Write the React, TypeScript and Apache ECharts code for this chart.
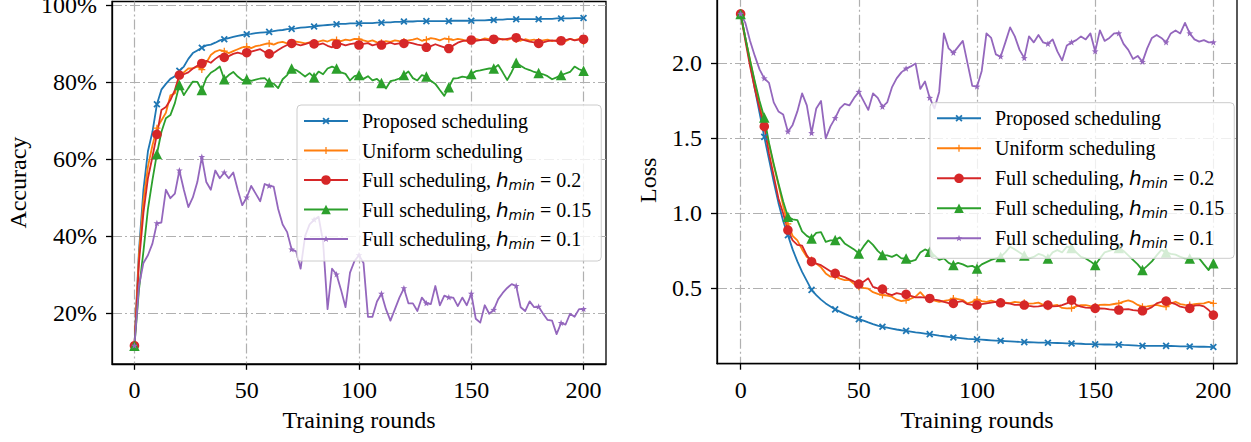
import React, { useEffect, useRef } from "react";
import * as echarts from "echarts";

// ---------- data (values every 2 training rounds) ----------
const ROUND_STEP = 2;
const MARK_EVERY = 10;
const xTicks = [0, 50, 100, 150, 200];
const accTicks = [20, 40, 60, 80, 100];
const lossTicks = [0.5, 1.0, 1.5, 2.0];

const seriesNames = [
  "Proposed scheduling",
  "Uniform scheduling",
  "Full scheduling, h_min = 0.2",
  "Full scheduling, h_min = 0.15",
  "Full scheduling, h_min = 0.1",
];

// Accuracy (%)
const accProposed = [
  11.5, 36, 52, 62, 67, 74.2, 78, 79.5, 80.8, 81.5,
  82.9, 84, 86, 87.5, 88.2, 88.9, 89.5, 89.7, 90.2, 90.8,
  91.1, 91.4, 91.7, 92, 92.2, 92.4, 92.5, 92.7, 92.8, 92.9,
  93.0, 93.2, 93.4, 93.5, 93.7, 93.8, 93.9, 94.1, 94.2, 94.3,
  94.4, 94.6, 94.7, 94.8, 94.9, 95.0, 95.1, 95.1, 95.2, 95.2,
  95.2, 95.3, 95.3, 95.3, 95.4, 95.4, 95.5, 95.5, 95.6, 95.6,
  95.7, 95.7, 95.7, 95.8, 95.8, 95.8, 95.8, 95.8, 95.8, 95.8,
  95.8, 95.9, 95.9, 95.9, 95.9, 95.9, 96.0, 96.0, 96.0, 96.1,
  96.1, 96.2, 96.2, 96.3, 96.3, 96.3, 96.3, 96.3, 96.3, 96.3,
  96.3, 96.4, 96.4, 96.4, 96.5, 96.5, 96.5, 96.5, 96.6, 96.6,
  96.6,
];
const accUniform = [
  11.5, 35, 49, 58, 63.5, 68, 70, 72, 76.5, 77,
  81.8, 82.5, 83.5, 83.5, 84, 83.2, 85, 87, 87.9, 88.3,
  88, 87.5, 88, 88.5, 89, 89.2, 88.8, 89.3, 89.5, 89.8,
  90.0, 89.7, 90.2, 90.4, 90.0, 90.2, 90.5, 90.3, 90.0, 90.3,
  90.0, 90.5, 90.8, 90.5, 91.0, 90.9, 90.6, 91.0, 90.8, 91.2,
  91.1, 90.8, 90.5, 90.8, 90.3, 90.2, 90.6, 90.4, 90.8, 90.6,
  90.5, 90.8, 91.0, 91.3, 90.7, 91.0, 91.4, 91.2, 90.8, 91.3,
  91.1, 90.9, 91.2, 91.0, 90.6, 90.8, 91.2, 90.9, 91.3, 91.1,
  90.7, 91.0, 91.2, 90.9, 91.3, 91.0, 90.7, 91.1, 90.8, 91.0,
  90.5, 90.8, 91.0, 90.6, 90.9, 91.0, 90.6, 91.2, 90.9, 91.2,
  90.5,
];
const accFull02 = [
  11.5, 33, 46, 55, 60.5, 66.4, 72.7, 73.5, 75.3, 77.9,
  81.8, 82, 82.5, 83.5, 84.2, 84.8, 85.5, 85, 86, 86.8,
  86.4, 86.7, 87.3, 87.6, 87.3, 87.6, 87.9, 88.2, 88.5, 87.8,
  87.3, 87.5, 88.3, 89, 89.6, 90.0, 89.8, 89.5, 89.8, 90.2,
  89.9, 89.7, 90.0, 89.4, 89.0, 89.8, 89.9, 89.5, 89.8, 90.0,
  89.6, 89.9, 90.1, 89.5, 89.8, 89.6, 89.9, 90.2, 89.8, 90.0,
  90.0, 90.3, 90.0, 89.7, 89.5, 89.0, 89.3, 89.8, 89.4, 89.0,
  88.7, 89.5, 90.2, 90.6, 90.8, 90.9, 90.7, 90.9, 91.0, 90.8,
  91.1, 91.3, 91.0, 91.2, 91.4, 91.5, 91.2, 90.8, 90.5, 90.3,
  90.0, 90.3, 90.6, 90.8, 90.6, 90.7, 90.9, 91.2, 90.8, 91.0,
  91.1,
];
const accFull015 = [
  11.5, 26, 36, 47, 54.5, 61.3, 67, 70.6, 71.4, 74.5,
  79.2, 76.6, 78.4, 80.1, 80, 77.9, 81, 82.4, 83.1, 84,
  80.7, 81.8, 82.6, 81.4, 80.5, 80.7, 80.3, 80.6, 80.9, 81,
  79.9, 79.6, 78.4, 80.7, 81.8, 83.5, 83.1, 82.3, 81.4, 82.3,
  81.2, 82.7, 82, 83.5, 84, 83.5, 82.5, 82.1, 80.4, 81.5,
  81.8, 80.8, 81.5, 80.4, 80.8, 79.7, 78.3, 80.2, 80.5, 80.9,
  81.8, 82.7, 81.0, 80.4, 81.8, 81.4, 80.3, 79.5, 77.9, 76.4,
  78.6, 80.9, 81.0, 81.4, 81.2, 82.1, 82.8, 83.0, 83.3, 83.5,
  83.5, 84.4, 82.5, 80.5, 82.6, 85.0, 84.2, 83.5, 83.1, 82.6,
  82.3, 82.0, 81.5, 80.7, 81.2, 81.8, 82.2, 82.6, 84.0, 83.3,
  82.9,
];
const accFull01 = [
  11.5, 27, 33, 35, 38, 43.3, 43.5, 52, 49.8, 51,
  57, 52, 47.5, 50, 54, 60.5, 54, 52, 57, 55,
  56.5, 55, 56.5, 52, 48, 50, 53, 51, 49, 53.5,
  53, 52.8, 47, 43, 41, 36.5, 36, 31.5, 40, 43,
  44.2, 45, 38.5, 21, 31.5, 30, 26, 21.5, 30.5, 33.5,
  35, 33, 19, 19, 23, 25, 21, 18, 21, 24,
  26.4, 22.5, 22.5, 20.5, 24, 22.5, 22.3, 27, 22, 24.5,
  24, 24, 21.8, 24, 22, 25, 18.5, 17.5, 22, 19.8,
  20.8, 23.6, 25.2, 26.5, 27.5, 27, 21.5, 20.5, 23, 21.5,
  21.6, 19.8, 18.2, 18, 14.5, 17.4, 17, 19.8, 19, 21,
  21,
];

// Loss
const lossProposed = [
  2.33, 2.17, 2.0, 1.83, 1.67, 1.51, 1.36, 1.21, 1.07, 0.95,
  0.855, 0.76, 0.68, 0.61, 0.55, 0.49, 0.455, 0.425, 0.40, 0.38,
  0.36, 0.345, 0.33, 0.317, 0.305, 0.295, 0.285, 0.273, 0.262, 0.252,
  0.244, 0.238, 0.232, 0.226, 0.221, 0.217, 0.212, 0.207, 0.203, 0.199,
  0.195, 0.19, 0.185, 0.181, 0.177, 0.173, 0.17, 0.167, 0.164, 0.162,
  0.16, 0.158, 0.156, 0.154, 0.152, 0.151, 0.149, 0.147, 0.145, 0.143,
  0.142, 0.141, 0.14, 0.139, 0.138, 0.138, 0.137, 0.136, 0.135, 0.134,
  0.133, 0.132, 0.131, 0.129, 0.128, 0.127, 0.127, 0.126, 0.126, 0.125,
  0.125, 0.123, 0.122, 0.12, 0.118, 0.117, 0.117, 0.117, 0.117, 0.117,
  0.117, 0.116, 0.115, 0.114, 0.114, 0.113, 0.112, 0.111, 0.111, 0.11,
  0.109,
];
const lossUniform = [
  2.33, 2.17, 2.02, 1.87, 1.72, 1.60, 1.46, 1.32, 1.19, 1.05,
  0.93, 0.85, 0.82, 0.76, 0.71, 0.69, 0.665, 0.64, 0.60, 0.578,
  0.58, 0.565, 0.555, 0.555, 0.53, 0.511, 0.503, 0.498, 0.475, 0.463,
  0.456, 0.452, 0.445, 0.425, 0.415, 0.42, 0.432, 0.445, 0.475, 0.44,
  0.427, 0.418, 0.411, 0.416, 0.422, 0.433, 0.428, 0.422, 0.40, 0.41,
  0.427, 0.415, 0.41, 0.418, 0.41, 0.40, 0.405, 0.402, 0.41, 0.406,
  0.404, 0.398, 0.40, 0.405, 0.39, 0.378, 0.385, 0.39, 0.37, 0.367,
  0.367, 0.38, 0.389, 0.388, 0.382, 0.378, 0.39, 0.392, 0.39, 0.396,
  0.40, 0.412, 0.42, 0.41, 0.39, 0.378, 0.38, 0.385, 0.39, 0.382,
  0.378, 0.40, 0.411, 0.395, 0.39, 0.389, 0.395, 0.398, 0.40, 0.41,
  0.40,
];
const lossFull02 = [
  2.33, 2.15, 1.98, 1.83, 1.70, 1.58, 1.40, 1.25, 1.10, 1.0,
  0.889, 0.82, 0.79, 0.785, 0.72, 0.678, 0.665, 0.655, 0.635, 0.615,
  0.60, 0.585, 0.575, 0.56, 0.545, 0.529, 0.545, 0.567, 0.51, 0.50,
  0.495, 0.465, 0.455, 0.468, 0.462, 0.46, 0.45, 0.44, 0.442, 0.438,
  0.433, 0.425, 0.42, 0.41, 0.402, 0.40, 0.41, 0.415, 0.395, 0.39,
  0.389, 0.395, 0.40, 0.405, 0.41, 0.404, 0.402, 0.398, 0.39, 0.39,
  0.389, 0.383, 0.378, 0.38, 0.385, 0.389, 0.38, 0.382, 0.388, 0.40,
  0.422, 0.39, 0.378, 0.372, 0.37, 0.367, 0.366, 0.365, 0.36, 0.357,
  0.356, 0.36, 0.362, 0.355, 0.352, 0.351, 0.36, 0.375, 0.40, 0.41,
  0.415, 0.405, 0.395, 0.378, 0.372, 0.367, 0.385, 0.389, 0.38, 0.356,
  0.322,
];
const lossFull015 = [
  2.33, 2.17, 2.02, 1.88, 1.75, 1.64, 1.47, 1.33, 1.20, 1.08,
  0.978, 0.96, 0.955, 0.88, 0.85, 0.833, 0.87, 0.875, 0.81, 0.82,
  0.822, 0.84, 0.80, 0.78, 0.76, 0.733, 0.78, 0.82, 0.79, 0.75,
  0.722, 0.72, 0.71, 0.725, 0.70, 0.70, 0.68, 0.69, 0.74, 0.76,
  0.745, 0.72, 0.69, 0.70, 0.67, 0.656, 0.67, 0.66, 0.645, 0.65,
  0.633, 0.66, 0.675, 0.69, 0.70, 0.71, 0.74, 0.778, 0.76, 0.74,
  0.72, 0.70, 0.71, 0.73, 0.72, 0.70, 0.74, 0.755, 0.74, 0.778,
  0.77, 0.74, 0.71, 0.70, 0.68, 0.656, 0.70, 0.74, 0.75, 0.76,
  0.77, 0.75, 0.72, 0.69, 0.66, 0.622, 0.65, 0.68, 0.72, 0.757,
  0.74, 0.73, 0.725, 0.71, 0.70, 0.70, 0.70, 0.70, 0.66, 0.622,
  0.667,
];
const lossFull01 = [
  2.33, 2.27, 2.15, 2.05, 1.96, 1.90, 1.87, 1.74, 1.68, 1.66,
  1.545, 1.59, 1.68, 1.80, 1.72, 1.535, 1.70, 1.75, 1.50, 1.58,
  1.635, 1.70, 1.73, 1.72, 1.77, 1.81, 1.75, 1.69, 1.80, 1.77,
  1.71, 1.74, 1.84, 1.90, 1.94, 1.965, 1.98, 2.0, 1.83, 1.88,
  1.77, 1.70, 1.81, 2.20, 2.10, 2.07, 2.11, 2.15, 2.0, 1.85,
  1.845, 1.95, 2.2, 2.17, 2.06, 2.044, 2.14, 2.24, 2.18, 2.09,
  2.035, 2.18, 2.14, 2.19, 2.14, 2.13, 2.16, 2.08, 2.02, 2.12,
  2.14, 2.155, 2.18, 2.16, 2.20, 2.08, 2.22, 2.15, 2.17, 2.20,
  2.20, 2.13, 2.09, 2.03, 2.05, 2.01, 2.10, 2.17, 2.19, 2.17,
  2.14, 2.20, 2.22, 2.20, 2.27, 2.20, 2.16, 2.145, 2.155, 2.14,
  2.14,
];

const accSeries = [accProposed, accUniform, accFull02, accFull015, accFull01];
const lossSeries = [lossProposed, lossUniform, lossFull02, lossFull015, lossFull01];

// ---------- styling ----------
const SERIF = '"Liberation Serif", "Times New Roman", serif';
const MATH = '"DejaVu Sans", sans-serif';
const COLORS = ["#1f77b4", "#ff7f0e", "#d62728", "#2ca02c", "#9467bd"];
const X_PATH =
  "path://M0,0M10,10M1.3,2.6L2.6,1.3L5,3.7L7.4,1.3L8.7,2.6L6.3,5L8.7,7.4L7.4,8.7L5,6.3L2.6,8.7L1.3,7.4L3.7,5Z";
const PLUS_PATH =
  "path://M0,0M10,10M4.35,1.4H5.65V4.35H8.6V5.65H5.65V8.6H4.35V5.65H1.4V4.35H4.35Z";
const STAR_PATH =
  "path://M0,0M10,10M5,1.4L5.9,3.9L8.5,3.95L6.45,5.55L7.15,8.1L5,6.6L2.85,8.1L3.55,5.55L1.5,3.95L4.1,3.9Z";
const SYMBOLS = [X_PATH, PLUS_PATH, "circle", "triangle", STAR_PATH];
const SYMBOL_SIZES = [9.6, 9.6, 9.6, 10.5, 9.6];

const GRID_DASH = [10, 3, 2, 3];

function toData(values: number[]) {
  return values.map((v, i) => {
    const r = i * ROUND_STEP;
    return r % MARK_EVERY === 0 ? [r, v] : { value: [r, v], symbol: "none" };
  });
}

function legendFormatter(name: string) {
  const m = name.match(/^(.*), h_min = (.*)$/);
  if (!m) return `{t|${name}}`;
  return `{t|${m[1]}, }{h|h}{s|min}{t| = ${m[2]}}`;
}

const legendRich = {
  t: { fontFamily: SERIF, fontSize: 20, color: "#000", lineHeight: 24 },
  h: { fontFamily: MATH, fontStyle: "italic", fontSize: 20, color: "#000", lineHeight: 24 },
  s: {
    fontFamily: MATH,
    fontStyle: "italic",
    fontSize: 14,
    color: "#000",
    lineHeight: 24,
    padding: [10, 0, 0, 0],
  },
};

function makeLegend(left: number, top: number, padding: number[], itemGap: number) {
  return {
    show: true,
    orient: "vertical",
    left,
    top,
    padding,
    itemGap,
    itemWidth: 44,
    itemHeight: 12,
    selectedMode: false,
    data: seriesNames,
    backgroundColor: "rgba(255,255,255,0.8)",
    borderColor: "#cccccc",
    borderWidth: 1,
    borderRadius: 4,
    formatter: legendFormatter,
    textStyle: {
      fontFamily: SERIF,
      fontSize: 20,
      color: "#000",
      lineHeight: 24,
      height: 24,
      padding: [0, 0, 0, 9],
      rich: legendRich,
    },
  };
}

const axisLineStyle = { show: true, onZero: false, lineStyle: { color: "#000", width: 1.3 } };
const tickStyle = (vals: number[]) => ({
  show: true,
  inside: false,
  length: 6,
  customValues: vals,
  lineStyle: { color: "#000", width: 1.3 },
});
const splitStyle = { show: true, lineStyle: { color: "#b0b0b0", width: 1.2, type: GRID_DASH } };

function makeXAxis(gridIndex: number) {
  return {
    type: "value",
    gridIndex,
    min: -10,
    max: 210,
    name: "Training rounds",
    nameLocation: "middle",
    nameGap: 44,
    nameTextStyle: { fontFamily: SERIF, fontSize: 24, color: "#000" },
    axisLine: axisLineStyle,
    axisTick: tickStyle(xTicks),
    axisLabel: {
      customValues: xTicks,
      fontFamily: SERIF,
      fontSize: 24,
      color: "#000",
      margin: 14,
    },
    splitLine: splitStyle,
  };
}

export default function App() {
  const ref = useRef<HTMLDivElement>(null);

  useEffect(() => {
    if (!ref.current) return;
    const chart = echarts.init(ref.current, null, { renderer: "svg" });

    const makeSeries = (vals: number[], k: number, axisIndex: number) => ({
      type: "line",
      name: seriesNames[k],
      xAxisIndex: axisIndex,
      yAxisIndex: axisIndex,
      data: toData(vals),
      symbol: SYMBOLS[k],
      symbolSize: SYMBOL_SIZES[k],
      showAllSymbol: true,
      lineStyle: { color: COLORS[k], width: 1.8, join: "round" },
      itemStyle: { color: COLORS[k] },
      emphasis: { disabled: true },
    });

    const series: any[] = [
      ...accSeries.map((vals, k) => makeSeries(vals, k, 0)),
      ...lossSeries.map((vals, k) => makeSeries(vals, k, 1)),
    ];

    chart.setOption({
      animation: false,
      backgroundColor: "#ffffff",
      grid: [
        {
          left: 112,
          top: 1.5,
          width: 494,
          height: 362.3,
          show: true,
          borderColor: "#000",
          borderWidth: 1.3,
          backgroundColor: "transparent",
          containLabel: false,
          outerBoundsMode: "none",
        },
        {
          left: 717,
          top: -3.2,
          width: 520,
          height: 366.9,
          show: true,
          borderColor: "#000",
          borderWidth: 1.3,
          backgroundColor: "transparent",
          containLabel: false,
          outerBoundsMode: "none",
        },
      ],
      xAxis: [makeXAxis(0), makeXAxis(1)],
      yAxis: [
        {
          type: "value",
          gridIndex: 0,
          min: 6.8,
          max: 100.9,
          name: "Accuracy",
          nameLocation: "middle",
          nameGap: 82,
          nameTextStyle: { fontFamily: SERIF, fontSize: 24, color: "#000" },
          axisLine: axisLineStyle,
          axisTick: tickStyle(accTicks),
          axisLabel: {
            customValues: accTicks,
            fontFamily: SERIF,
            fontSize: 24,
            color: "#000",
            margin: 15,
            formatter: (v: number) => `${v}%`,
          },
          splitLine: splitStyle,
        },
        {
          type: "value",
          gridIndex: 1,
          min: -0.002,
          max: 2.444,
          name: "Loss",
          nameLocation: "middle",
          nameGap: 57,
          nameTextStyle: { fontFamily: SERIF, fontSize: 24, color: "#000" },
          axisLine: axisLineStyle,
          axisTick: tickStyle(lossTicks),
          axisLabel: {
            customValues: lossTicks,
            fontFamily: SERIF,
            fontSize: 24,
            color: "#000",
            margin: 15,
            formatter: (v: number) => v.toFixed(1),
          },
          splitLine: splitStyle,
        },
      ],
      legend: [
        makeLegend(297, 105, [4, 10, 10, 6], 5.5),
        makeLegend(930, 102.7, [3.6, 10, 8, 6], 6),
      ],
      series,
    });

    return () => chart.dispose();
  }, []);

  return (
    <div
      ref={ref}
      style={{ position: "absolute", left: 0, top: 0, width: 1251, height: 442 }}
    />
  );
}
